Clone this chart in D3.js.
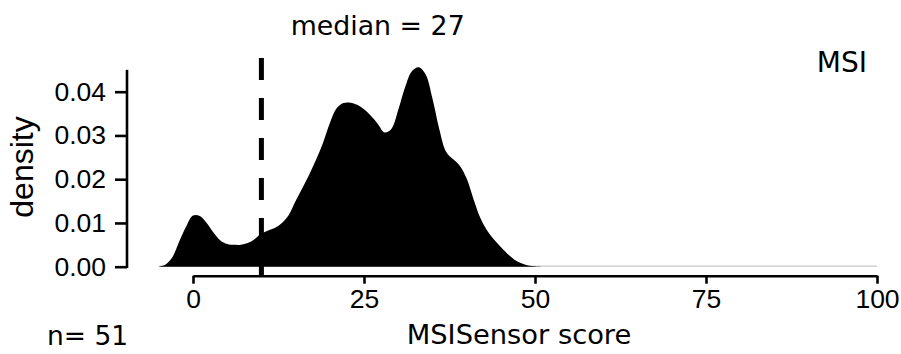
<!DOCTYPE html>
<html><head><meta charset="utf-8">
<script src="https://cdn.jsdelivr.net/npm/d3@7"></script>
<style>body{margin:0;background:#fff}svg{display:block}</style>
</head><body>
<script>
// Data
const scoreGrid = [-5,-4,-3,-2,-1,0,1,2,3,4,5,6,7,8,9,10,11,12,13,14,15,16,17,18,19,20,21,22,23,24,25,26,27,28,29,30,31,32,33,34,35,36,37,38,39,40,41,42,43,44,45,46,47,48,49,50,51,60,70,80,90,100];
const densityVals = [0,0.0005,0.0022,0.0058,0.0092,0.0117,0.0116,0.0100,0.0078,0.0060,0.0052,0.0050,0.0050,0.0054,0.0063,0.0076,0.0083,0.0089,0.0100,0.0118,0.0150,0.0180,0.0211,0.0245,0.0283,0.0328,0.0362,0.0374,0.0375,0.0370,0.0360,0.0345,0.0327,0.0307,0.0315,0.0358,0.0410,0.0447,0.0456,0.0440,0.0385,0.0315,0.0263,0.0246,0.0231,0.0202,0.0155,0.0112,0.0083,0.0062,0.0045,0.0029,0.0016,0.0008,0.0003,0.0001,0,0,0,0,0,0];
const xTicks = [0,25,50,75,100];
const yTicks = [0,0.01,0.02,0.03,0.04];
const markerAt = 10;
const medianValue = 27;
const groupName = "MSI";
const nSamples = 51;

const W = 901, H = 354;
const svg = d3.select("body").append("svg").attr("width", W).attr("height", H);

const x = d3.scaleLinear().domain([0,100]).range([193,877]);
const y = d3.scaleLinear().domain([0,0.04]).range([266.7,91.7]);

const pts = scoreGrid.map((s,i)=>[s,densityVals[i]]);

// baseline gray line
svg.append("line")
  .attr("x1", x(scoreGrid[0])).attr("x2", x(scoreGrid[scoreGrid.length-1]))
  .attr("y1", y(0)-0.5).attr("y2", y(0)-0.5)
  .attr("stroke", "#c8c8c8").attr("stroke-width", 1.2);

const area = d3.area().x(d=>x(d[0])).y0(y(0)).y1(d=>Math.min(y(0), y(d[1]))).curve(d3.curveCatmullRom.alpha(0.5));
svg.append("path").datum(pts).attr("d", area).attr("fill", "#000");

// dashed marker line
svg.append("line")
  .attr("x1", x(markerAt)).attr("x2", x(markerAt))
  .attr("y1", 58).attr("y2", 276)
  .attr("stroke", "#000").attr("stroke-width", 5)
  .attr("stroke-dasharray", "22,18");

// x axis
const tickFont = "'Liberation Sans', Arial, sans-serif";
const xAxis = d3.axisBottom(x).tickValues(xTicks).tickSize(8).tickPadding(5).tickSizeOuter(0).tickFormat(d3.format("d"));
const gx = svg.append("g").attr("transform","translate(0,275.7)").call(xAxis);
gx.select(".domain").attr("stroke-width", 2.6);
gx.selectAll(".tick line").attr("stroke-width", 2.6);
gx.selectAll("text").attr("font-family", tickFont).attr("font-size", 26.5).attr("fill","#000");

// y axis
const yAxis = d3.axisLeft(y).tickValues(yTicks).tickSize(12).tickPadding(9).tickSizeOuter(0).tickFormat(d3.format(".2f"));
const gy = svg.append("g").attr("transform","translate(127,0)").call(yAxis);
gy.select(".domain").attr("d", `M0,${y(0)+1.3}V${y(0.045)}`).attr("stroke-width", 2.6);
gy.selectAll(".tick line").attr("stroke-width", 2.6);
gy.selectAll("text").attr("font-family", tickFont).attr("font-size", 26.5).attr("fill","#000");

// y label
svg.append("text").attr("transform","translate(33,167) rotate(-90)")
  .attr("text-anchor","middle").attr("font-family", tickFont).attr("font-size", 32)
  .text("density");

const lblFont = "'DejaVu Sans', Verdana, sans-serif";
svg.append("text").attr("x", x(medianValue)).attr("y", 35).attr("text-anchor","middle")
  .attr("font-family", lblFont).attr("font-size", 26.8).text("median = " + medianValue);
svg.append("text").attr("x", 867).attr("y", 72).attr("text-anchor","end")
  .attr("font-family", lblFont).attr("font-size", 28).text(groupName);
svg.append("text").attr("x", 519).attr("y", 344).attr("text-anchor","middle")
  .attr("font-family", lblFont).attr("font-size", 27.3).text("MSISensor score");
svg.append("text").attr("x", 47).attr("y", 345).attr("text-anchor","start")
  .attr("font-family", lblFont).attr("font-size", 26.5).text("n= " + nSamples);
</script>
</body></html>
